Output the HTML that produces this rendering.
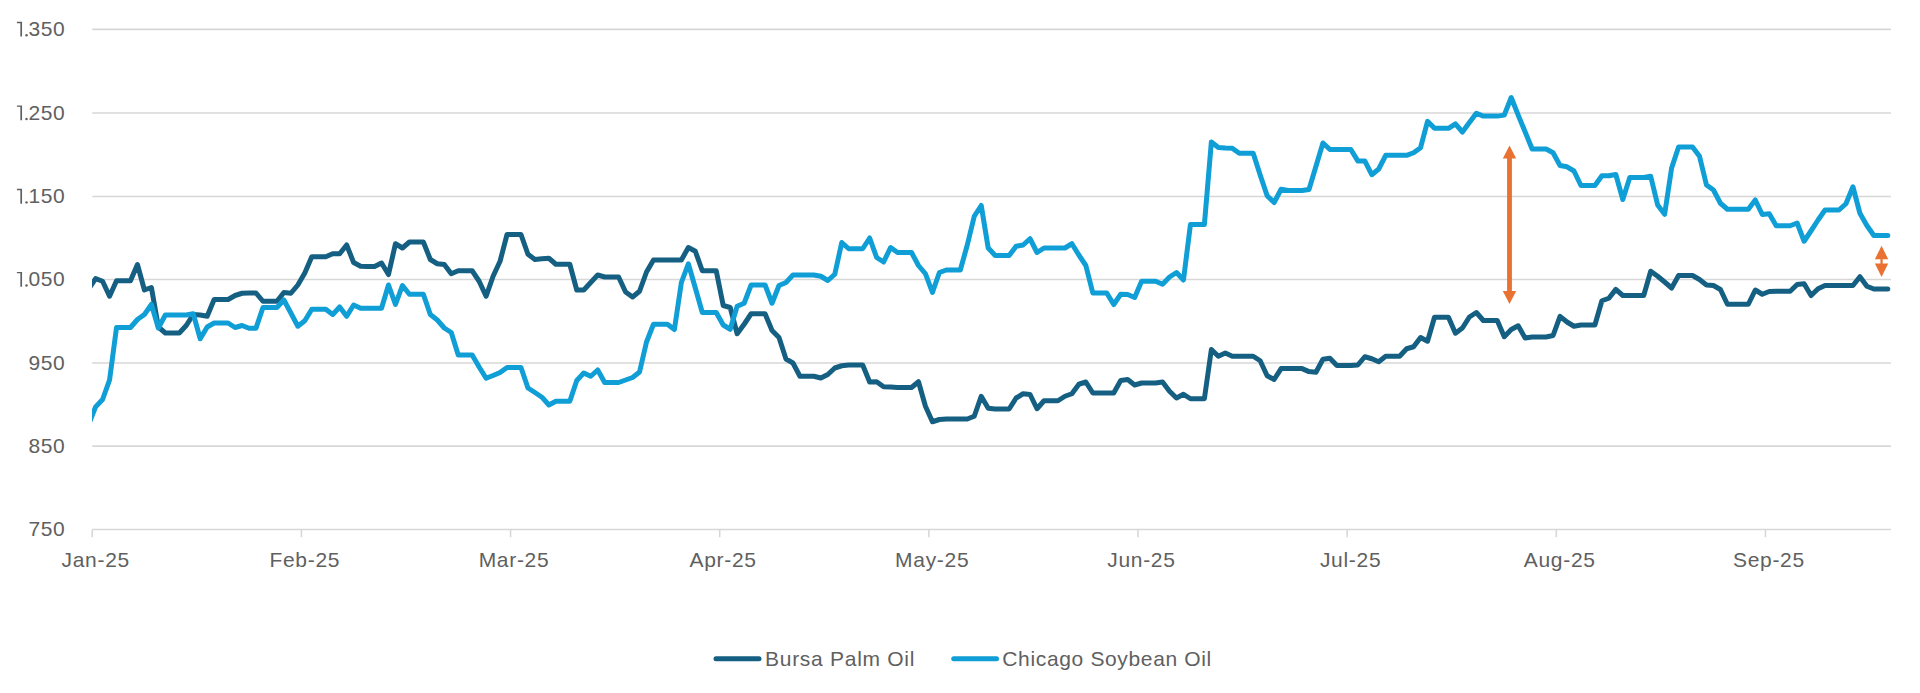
<!DOCTYPE html>
<html><head><meta charset="utf-8"><title>Chart</title>
<style>html,body{margin:0;padding:0;background:#fff;}body{width:1920px;height:693px;overflow:hidden;}svg{display:block;}text{font-family:"Liberation Sans",sans-serif;font-size:21px;fill:#606060;}</style></head><body>
<svg width="1920" height="693" viewBox="0 0 1920 693">
<rect width="1920" height="693" fill="#fff"/>
<line x1="92.25" x2="1890.95" y1="29.35" y2="29.35" stroke="#d7d7d7" stroke-width="1.55"/>
<line x1="92.25" x2="1890.95" y1="113.0" y2="113.0" stroke="#d7d7d7" stroke-width="1.55"/>
<line x1="92.25" x2="1890.95" y1="196.45" y2="196.45" stroke="#d7d7d7" stroke-width="1.55"/>
<line x1="92.25" x2="1890.95" y1="279.5" y2="279.5" stroke="#d7d7d7" stroke-width="1.55"/>
<line x1="92.25" x2="1890.95" y1="363.0" y2="363.0" stroke="#d7d7d7" stroke-width="1.55"/>
<line x1="92.25" x2="1890.95" y1="446.1" y2="446.1" stroke="#d7d7d7" stroke-width="1.55"/>
<line x1="92.25" x2="1890.95" y1="529.55" y2="529.55" stroke="#d7d7d7" stroke-width="1.55"/>
<line x1="92.25" x2="92.25" y1="529.55" y2="537.2" stroke="#d7d7d7" stroke-width="1.55"/>
<line x1="301.40" x2="301.40" y1="529.55" y2="537.2" stroke="#d7d7d7" stroke-width="1.55"/>
<line x1="510.55" x2="510.55" y1="529.55" y2="537.2" stroke="#d7d7d7" stroke-width="1.55"/>
<line x1="719.70" x2="719.70" y1="529.55" y2="537.2" stroke="#d7d7d7" stroke-width="1.55"/>
<line x1="928.85" x2="928.85" y1="529.55" y2="537.2" stroke="#d7d7d7" stroke-width="1.55"/>
<line x1="1138.00" x2="1138.00" y1="529.55" y2="537.2" stroke="#d7d7d7" stroke-width="1.55"/>
<line x1="1347.15" x2="1347.15" y1="529.55" y2="537.2" stroke="#d7d7d7" stroke-width="1.55"/>
<line x1="1556.30" x2="1556.30" y1="529.55" y2="537.2" stroke="#d7d7d7" stroke-width="1.55"/>
<line x1="1765.45" x2="1765.45" y1="529.55" y2="537.2" stroke="#d7d7d7" stroke-width="1.55"/>
<path fill="#606060" d="M16.9,21.75 H22.05 V36.60 H20.35 V23.15 H16.9 Z"/>
<circle fill="#606060" cx="26.5" cy="35.30" r="1.22"/>
<text x="65.4" y="36.1" text-anchor="end" letter-spacing="0.6">350</text>
<path fill="#606060" d="M16.9,105.40 H22.05 V120.25 H20.35 V106.80 H16.9 Z"/>
<circle fill="#606060" cx="26.5" cy="118.95" r="1.22"/>
<text x="65.4" y="119.8" text-anchor="end" letter-spacing="0.6">250</text>
<path fill="#606060" d="M16.9,188.85 H22.05 V203.70 H20.35 V190.25 H16.9 Z"/>
<circle fill="#606060" cx="26.5" cy="202.40" r="1.22"/>
<text x="65.4" y="203.2" text-anchor="end" letter-spacing="0.6">150</text>
<path fill="#606060" d="M16.9,271.90 H22.05 V286.75 H20.35 V273.30 H16.9 Z"/>
<circle fill="#606060" cx="26.5" cy="285.45" r="1.22"/>
<text x="65.4" y="286.3" text-anchor="end" letter-spacing="0.6">050</text>
<text x="65.4" y="369.8" text-anchor="end" letter-spacing="0.6">950</text>
<text x="65.4" y="452.9" text-anchor="end" letter-spacing="0.6">850</text>
<text x="65.4" y="536.3" text-anchor="end" letter-spacing="0.6">750</text>
<text x="95.7" y="567.4" text-anchor="middle" letter-spacing="0.7">Jan-25</text>
<text x="304.8" y="567.4" text-anchor="middle" letter-spacing="0.7">Feb-25</text>
<text x="514.0" y="567.4" text-anchor="middle" letter-spacing="0.7">Mar-25</text>
<text x="723.1" y="567.4" text-anchor="middle" letter-spacing="0.7">Apr-25</text>
<text x="932.2" y="567.4" text-anchor="middle" letter-spacing="0.7">May-25</text>
<text x="1141.4" y="567.4" text-anchor="middle" letter-spacing="0.7">Jun-25</text>
<text x="1350.6" y="567.4" text-anchor="middle" letter-spacing="0.7">Jul-25</text>
<text x="1559.7" y="567.4" text-anchor="middle" letter-spacing="0.7">Aug-25</text>
<text x="1768.9" y="567.4" text-anchor="middle" letter-spacing="0.7">Sep-25</text>
<defs><clipPath id="c"><rect x="92.0" y="20" width="1800.7" height="520"/></clipPath></defs>
<g clip-path="url(#c)" fill="none" stroke-width="5" stroke-linejoin="round" stroke-linecap="round">
<polyline stroke="#156082" points="88.63,289.00 95.60,278.60 102.57,281.25 109.55,296.25 116.52,280.75 123.49,280.75 130.47,280.75 137.44,264.50 144.41,290.00 151.39,287.50 158.36,327.00 165.33,333.00 172.31,333.00 179.28,333.00 186.26,325.50 193.23,314.50 200.20,315.00 207.18,316.25 214.15,299.50 221.12,299.50 228.10,299.50 235.07,295.50 242.04,293.25 249.02,293.00 255.99,293.00 262.96,301.25 269.94,301.25 276.91,301.25 283.88,292.50 290.86,293.25 297.83,285.00 304.80,273.00 311.78,256.75 318.75,256.75 325.73,256.75 332.70,253.75 339.67,253.75 346.65,245.00 353.62,262.50 360.59,266.25 367.57,266.50 374.54,266.50 381.51,263.00 388.49,274.50 395.46,243.75 402.43,248.00 409.41,242.00 416.38,242.00 423.35,242.00 430.33,259.50 437.30,263.75 444.27,264.50 451.25,273.75 458.22,270.75 465.20,270.75 472.17,270.75 479.14,281.25 486.12,296.25 493.09,276.25 500.06,261.25 507.04,234.50 514.01,234.50 520.98,234.50 527.96,254.25 534.93,259.50 541.90,258.75 548.88,258.25 555.85,264.25 562.82,264.25 569.80,264.25 576.77,290.00 583.75,290.00 590.72,282.50 597.69,275.00 604.67,277.00 611.64,277.00 618.61,277.00 625.59,292.00 632.56,297.00 639.53,291.25 646.51,272.00 653.48,260.00 660.45,260.00 667.43,260.00 674.40,260.00 681.37,260.00 688.35,247.50 695.32,251.25 702.29,270.75 709.27,270.75 716.24,270.75 723.22,305.50 730.19,307.50 737.16,333.75 744.14,324.25 751.11,313.75 758.08,313.75 765.06,313.75 772.03,330.50 779.00,337.50 785.98,359.00 792.95,363.00 799.92,376.25 806.90,376.25 813.87,376.25 820.84,378.00 827.82,374.50 834.79,368.00 841.76,365.75 848.74,365.00 855.71,365.00 862.68,365.00 869.66,382.00 876.63,381.75 883.61,386.75 890.58,387.00 897.55,387.50 904.53,387.50 911.50,387.50 918.47,381.75 925.45,406.25 932.42,421.75 939.39,419.50 946.37,419.00 953.34,419.00 960.31,419.00 967.29,419.00 974.26,416.25 981.23,396.25 988.21,408.25 995.18,409.00 1002.15,409.00 1009.13,409.00 1016.10,398.00 1023.08,393.75 1030.05,394.50 1037.02,408.75 1044.00,400.75 1050.97,400.75 1057.94,400.75 1064.92,396.25 1071.89,393.75 1078.86,384.25 1085.84,382.00 1092.81,393.00 1099.78,393.00 1106.76,393.00 1113.73,393.00 1120.70,380.50 1127.68,379.50 1134.65,385.00 1141.62,383.00 1148.60,383.00 1155.57,383.00 1162.55,382.00 1169.52,391.25 1176.49,398.00 1183.47,394.25 1190.44,398.75 1197.41,398.75 1204.39,398.75 1211.36,349.50 1218.33,356.25 1225.31,353.00 1232.28,356.25 1239.25,356.25 1246.23,356.25 1253.20,356.25 1260.17,360.75 1267.15,375.75 1274.12,379.50 1281.09,368.60 1288.07,368.60 1295.04,368.60 1302.02,368.60 1308.99,371.60 1315.96,372.30 1322.94,359.25 1329.91,358.25 1336.88,365.50 1343.86,365.50 1350.83,365.50 1357.80,365.00 1364.78,356.75 1371.75,358.75 1378.72,361.75 1385.70,356.25 1392.67,356.25 1399.64,356.25 1406.62,348.75 1413.59,346.75 1420.56,337.50 1427.54,341.25 1434.51,317.25 1441.49,317.25 1448.46,317.25 1455.43,333.25 1462.41,328.00 1469.38,317.00 1476.35,312.50 1483.33,320.50 1490.30,320.50 1497.27,320.50 1504.25,336.75 1511.22,329.50 1518.19,325.75 1525.17,338.00 1532.14,337.00 1539.11,337.00 1546.09,337.00 1553.06,335.50 1560.03,316.40 1567.01,322.00 1573.98,326.25 1580.96,325.00 1587.93,325.00 1594.90,325.00 1601.88,300.75 1608.85,298.25 1615.82,289.40 1622.80,295.50 1629.77,295.50 1636.74,295.50 1643.72,295.50 1650.69,271.20 1657.66,276.25 1664.64,282.00 1671.61,288.00 1678.58,275.50 1685.56,275.50 1692.53,275.50 1699.50,279.50 1706.48,285.00 1713.45,285.50 1720.43,289.50 1727.40,304.25 1734.37,304.25 1741.35,304.25 1748.32,304.25 1755.29,290.00 1762.27,294.25 1769.24,291.50 1776.21,291.25 1783.19,291.25 1790.16,291.25 1797.13,284.50 1804.11,283.75 1811.08,295.50 1818.05,288.75 1825.03,285.50 1832.00,285.50 1838.97,285.50 1845.95,285.50 1852.92,285.50 1859.90,276.70 1866.87,286.25 1873.84,289.00 1880.82,289.00 1887.79,289.00"/>
<polyline stroke="#0f9ed5" points="88.63,424.50 95.60,406.90 102.57,399.50 109.55,380.00 116.52,327.50 123.49,327.50 130.47,327.50 137.44,319.50 144.41,314.50 151.39,304.50 158.36,328.00 165.33,315.00 172.31,315.00 179.28,315.00 186.26,315.00 193.23,313.75 200.20,338.75 207.18,327.00 214.15,323.00 221.12,323.00 228.10,323.00 235.07,327.50 242.04,325.50 249.02,328.25 255.99,328.25 262.96,307.50 269.94,307.50 276.91,307.50 283.88,300.00 290.86,313.00 297.83,326.25 304.80,320.75 311.78,309.25 318.75,309.25 325.73,309.25 332.70,314.50 339.67,307.00 346.65,316.25 353.62,305.00 360.59,308.25 367.57,308.25 374.54,308.25 381.51,308.25 388.49,285.00 395.46,304.50 402.43,285.50 409.41,294.25 416.38,294.25 423.35,294.25 430.33,314.50 437.30,320.00 444.27,328.00 451.25,332.50 458.22,355.00 465.20,355.00 472.17,355.00 479.14,367.00 486.12,378.25 493.09,375.50 500.06,372.50 507.04,367.50 514.01,367.50 520.98,367.50 527.96,388.00 534.93,392.50 541.90,397.20 548.88,405.00 555.85,401.25 562.82,401.25 569.80,401.25 576.77,380.50 583.75,373.00 590.72,376.25 597.69,370.00 604.67,382.50 611.64,382.50 618.61,382.50 625.59,380.00 632.56,377.50 639.53,372.00 646.51,342.00 653.48,324.25 660.45,324.25 667.43,324.25 674.40,329.50 681.37,282.50 688.35,263.75 695.32,288.00 702.29,312.50 709.27,312.50 716.24,312.50 723.22,325.00 730.19,329.25 737.16,306.25 744.14,303.25 751.11,285.00 758.08,285.00 765.06,285.00 772.03,303.25 779.00,285.50 785.98,282.50 792.95,275.00 799.92,275.00 806.90,275.00 813.87,275.00 820.84,276.25 827.82,280.50 834.79,274.25 841.76,242.50 848.74,248.75 855.71,248.75 862.68,248.75 869.66,238.00 876.63,257.50 883.61,262.00 890.58,247.50 897.55,252.50 904.53,252.50 911.50,252.50 918.47,265.50 925.45,273.75 932.42,292.50 939.39,272.50 946.37,270.00 953.34,270.00 960.31,270.00 967.29,245.00 974.26,216.25 981.23,205.50 988.21,248.00 995.18,255.50 1002.15,255.50 1009.13,255.50 1016.10,246.25 1023.08,245.00 1030.05,238.75 1037.02,252.50 1044.00,248.00 1050.97,248.00 1057.94,248.00 1064.92,248.00 1071.89,243.75 1078.86,255.00 1085.84,265.50 1092.81,293.00 1099.78,293.00 1106.76,293.00 1113.73,304.50 1120.70,294.25 1127.68,294.50 1134.65,297.50 1141.62,281.25 1148.60,281.25 1155.57,281.25 1162.55,284.25 1169.52,277.00 1176.49,272.50 1183.47,280.00 1190.44,224.50 1197.41,224.50 1204.39,224.50 1211.36,142.00 1218.33,147.50 1225.31,148.00 1232.28,148.25 1239.25,153.25 1246.23,153.25 1253.20,153.25 1260.17,175.00 1267.15,195.75 1274.12,202.50 1281.09,189.25 1288.07,190.50 1295.04,190.50 1302.02,190.50 1308.99,189.50 1315.96,166.25 1322.94,143.00 1329.91,149.50 1336.88,149.50 1343.86,149.50 1350.83,149.50 1357.80,160.90 1364.78,160.90 1371.75,174.70 1378.72,169.00 1385.70,155.30 1392.67,155.30 1399.64,155.30 1406.62,155.30 1413.59,152.75 1420.56,147.70 1427.54,121.40 1434.51,128.30 1441.49,128.30 1448.46,128.30 1455.43,123.90 1462.41,132.00 1469.38,122.60 1476.35,113.20 1483.33,116.10 1490.30,116.10 1497.27,116.10 1504.25,115.10 1511.22,97.50 1518.19,115.10 1525.17,132.00 1532.14,149.00 1539.11,149.00 1546.09,149.00 1553.06,152.75 1560.03,165.50 1567.01,166.80 1573.98,171.00 1580.96,185.50 1587.93,185.50 1594.90,185.50 1601.88,175.75 1608.85,175.75 1615.82,174.50 1622.80,199.50 1629.77,177.50 1636.74,177.50 1643.72,177.50 1650.69,176.25 1657.66,205.00 1664.64,214.25 1671.61,168.00 1678.58,147.00 1685.56,147.00 1692.53,147.00 1699.50,156.25 1706.48,185.00 1713.45,190.00 1720.43,203.25 1727.40,209.25 1734.37,209.25 1741.35,209.25 1748.32,209.25 1755.29,200.00 1762.27,214.50 1769.24,213.75 1776.21,225.75 1783.19,225.75 1790.16,225.75 1797.13,223.00 1804.11,241.25 1811.08,230.75 1818.05,220.00 1825.03,210.00 1832.00,210.00 1838.97,210.00 1845.95,203.75 1852.92,186.75 1859.90,213.25 1866.87,225.50 1873.84,235.50 1880.82,235.50 1887.79,235.50"/>
</g>
<path fill="#e97132" d="M1509.5,145.6 L1516.2,158.6 L1511.9,158.6 L1511.9,291.1 L1516.2,291.1 L1509.5,304.1 L1502.8,291.1 L1507.1,291.1 L1507.1,158.6 L1502.8,158.6 Z"/>
<path fill="#e97132" d="M1881.55,245.7 L1888.2,259.2 L1882.6499999999999,259.2 L1882.6499999999999,263.6 L1888.2,263.6 L1881.55,277.1 L1874.8999999999999,263.6 L1880.45,263.6 L1880.45,259.2 L1874.8999999999999,259.2 Z"/>
<line x1="716" x2="759" y1="658.8" y2="658.8" stroke="#156082" stroke-width="5" stroke-linecap="round"/>
<text x="765" y="666" letter-spacing="0.72">Bursa Palm Oil</text>
<line x1="953.7" x2="996.5" y1="658.8" y2="658.8" stroke="#0f9ed5" stroke-width="5" stroke-linecap="round"/>
<text x="1002.3" y="666" letter-spacing="0.65">Chicago Soybean Oil</text>
</svg></body></html>
